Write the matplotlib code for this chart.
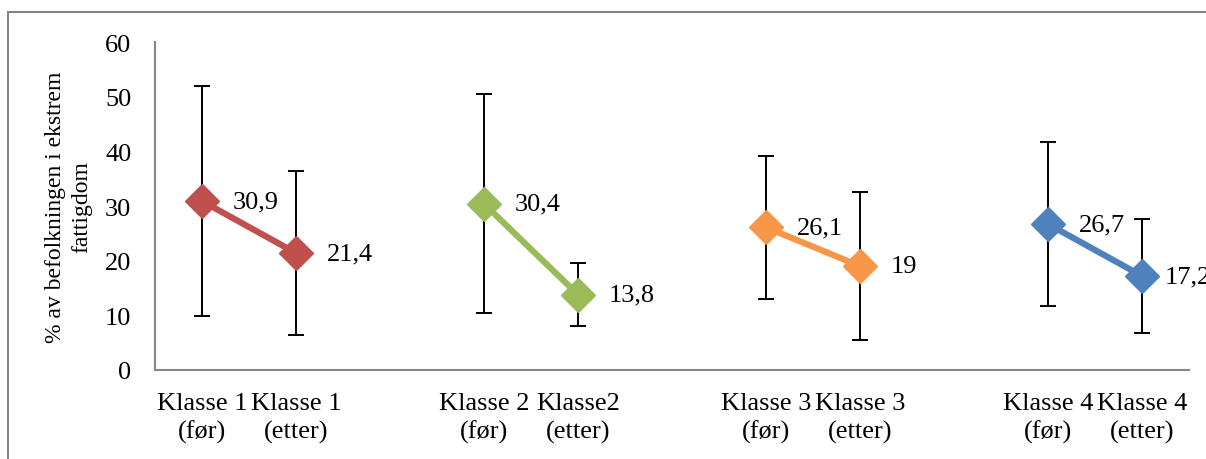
import numpy as np
import matplotlib
matplotlib.use("Agg")
import matplotlib.pyplot as plt
from matplotlib.patches import Rectangle

plt.rcParams['font.family'] = ['Liberation Serif', 'DejaVu Serif']

# Kategorier (tomme plasser mellom klassene)
categories = ['Klasse 1\n(før)', 'Klasse 1\n(etter)', '',
              'Klasse 2\n(før)', 'Klasse2\n(etter)', '',
              'Klasse 3\n(før)', 'Klasse 3\n(etter)', '',
              'Klasse 4\n(før)', 'Klasse 4\n(etter)']

# Verdier per klasse: før / etter
klasse1 = [30.9, 21.4]
klasse2 = [30.4, 13.8]
klasse3 = [26.1, 19.0]
klasse4 = [26.7, 17.2]

# Feilmargin (+/-)
feil1 = [21.0, 15.0]
feil2 = [20.0, 5.7]
feil3 = [13.1, 13.6]
feil4 = [15.0, 10.5]

series = [klasse1, klasse2, klasse3, klasse4]
errors = [feil1, feil2, feil3, feil4]
colors = ['#C0504D', '#9BBB59', '#F79646', '#4F81BD']
positions = [[0, 1], [3, 4], [6, 7], [9, 10]]

fig = plt.figure(figsize=(12.06, 4.6), dpi=100)
ax = fig.add_axes([155 / 1206, 89 / 460, 1034 / 1206, 328 / 460])

last_x = len(categories) - 1
for vals, err, col, pos in zip(series, errors, colors, positions):
    ax.errorbar(pos, vals, yerr=err, fmt='none', ecolor='black',
                elinewidth=1.4, capsize=6, capthick=1.4, zorder=2)
    ax.plot(pos, vals, color=col, linewidth=4.5, marker='D',
            markersize=17, zorder=3)
    for x, v in zip(pos, vals):
        txt = f'{v:g}'.replace('.', ',')
        # siste etikett skyves litt inn mot plottet
        dx = 16 if x == last_x else 22
        ax.annotate(txt, (x, v), xytext=(dx, 0), textcoords='offset points',
                    va='center', ha='left', fontsize=19, annotation_clip=False)

ax.set_xlim(-0.5, 10.5)
ax.set_ylim(0, 60)
ax.set_yticks(np.arange(0, 61, 10))
ax.set_xticks(range(len(categories)))
ax.set_xticklabels(categories, fontsize=19, linespacing=1.3)
ax.tick_params(axis='y', labelsize=19, length=0, pad=17)
ax.tick_params(axis='x', length=0, pad=16)

for side in ['top', 'right']:
    ax.spines[side].set_visible(False)
for side in ['left', 'bottom']:
    ax.spines[side].set_color('#868686')
    ax.spines[side].set_linewidth(1.5)

ax.set_ylabel('% av befolkningen i ekstrem\nfattigdom', fontsize=17,
              linespacing=1.3)
ax.yaxis.set_label_coords(-0.061, 0.5)

# Ytre ramme rundt diagrammet
fig.patches.append(Rectangle((8 / 1206, -0.1), 1.2, 0.1 + 447.5 / 460,
                             transform=fig.transFigure, fill=False,
                             edgecolor='#868686', linewidth=1.5))

fig.savefig('out.png', dpi=100)
